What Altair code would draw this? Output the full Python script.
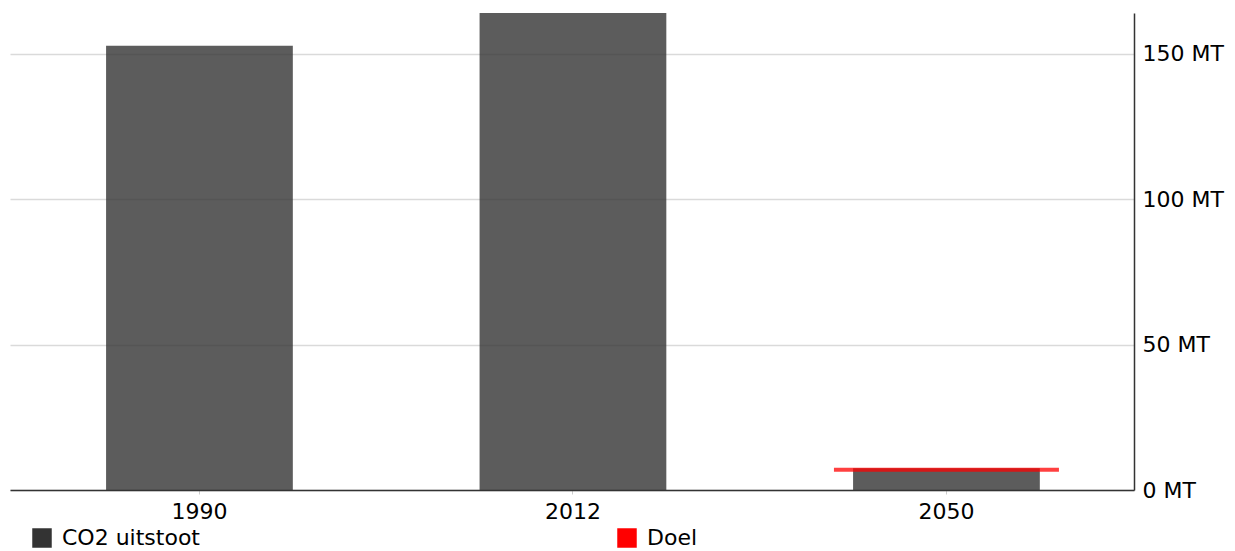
import altair as alt
import pandas as pd

years = ["1990", "2012", "2050"]
co2_values = [152.7, 164.0, 7.5]
target_year = ["2050"]
target_values = [7.0]
series_names = ["CO2 uitstoot", "Doel"]
series_colors = ["#333333", "#ff0000"]
y_ticks = [0, 50, 100, 150]

bars_df = pd.DataFrame({"jaar": years, "waarde": co2_values, "reeks": series_names[0]})
goal_df = pd.DataFrame({"jaar": target_year, "waarde": target_values, "reeks": series_names[1]})

FONT = "DejaVu Sans"

color = alt.Color(
    "reeks:N",
    scale=alt.Scale(domain=series_names, range=series_colors),
    legend=alt.Legend(
        title=None,
        orient="none",
        legendX=21,
        legendY=514,
        direction="horizontal",
        symbolType="square",
        symbolSize=380,
        symbolStrokeWidth=0,
        symbolOpacity=1,
        labelFont=FONT,
        labelFontSize=22,
        labelColor="#000000",
        labelLimit=400,
        labelOffset=9,
        columnPadding=416,
    ),
)

x = alt.X(
    "jaar:N",
    sort=years,
    title=None,
    scale=alt.Scale(paddingInner=0.5, paddingOuter=0.2547, align=0.505),
    axis=alt.Axis(
        labelAngle=0,
        labelFont=FONT,
        labelFontSize=22,
        labelColor="#000000",
        labelPadding=7,
        domainColor="#333333",
        domainWidth=1.5,
        tickColor="#cccccc",
        tickSize=4,
        grid=False,
    ),
)

y = alt.Y(
    "waarde:Q",
    title=None,
    scale=alt.Scale(domain=[0, 164], nice=False, zero=True),
    axis=alt.Axis(
        orient="right",
        values=y_ticks,
        labelExpr="datum.value + ' MT'",
        labelFont=FONT,
        labelFontSize=22,
        labelColor="#000000",
        labelPadding=8,
        ticks=False,
        domainColor="#333333",
        domainWidth=1.5,
        gridColor="#dadada",
        gridWidth=1.5,
    ),
)

bars = alt.Chart(bars_df).mark_bar(opacity=0.8).encode(x=x, y=y, color=color)
goal = alt.Chart(goal_df).mark_tick(size=225, thickness=4, opacity=0.75).encode(x=x, y=y, color=color)

chart = (
    alt.layer(bars, goal)
    .properties(
        width=1124,
        height=477,
        background="#ffffff",
        autosize=alt.AutoSizeParams(type="none"),
        padding={"left": 10, "top": 13, "right": 101, "bottom": 61},
    )
    .configure_view(strokeWidth=0, stroke="transparent")
)

chart.save("out.html", embed_options={"renderer": "svg", "actions": False})
